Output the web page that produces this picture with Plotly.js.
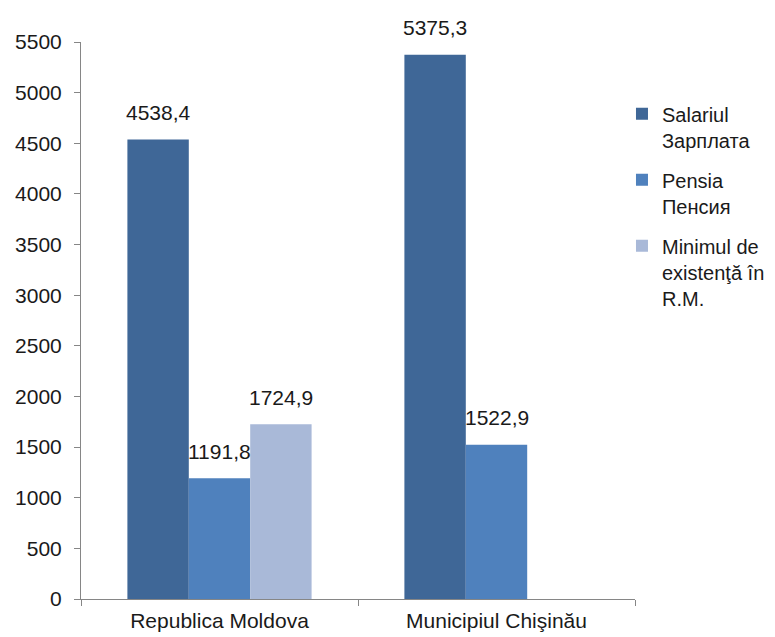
<!DOCTYPE html>
<html>
<head>
<meta charset="utf-8">
<script src="https://cdn.plot.ly/plotly-3.0.1.min.js"></script>
<style>
html,body{margin:0;padding:0;background:#fff;}
#chart{width:775px;height:637px;}
</style>
</head>
<body>
<div id="chart"></div>
<script>
const categories = ["Republica Moldova", "Municipiul Chişinău"];
const seriesNames = ["Salariul<br>Зарплата", "Pensia<br>Пенсия", "Minimul de<br>existenţă în<br>R.M."];
const salariul = [4538.4, 5375.3];
const pensia = [1191.8, 1522.9];
const minimul = [1724.9, null];
const colors = ["#3F6797", "#4F81BD", "#A9B9D8"];
const yTicks = [0, 500, 1000, 1500, 2000, 2500, 3000, 3500, 4000, 4500, 5000, 5500];

const FONT = "Liberation Sans, Arial, sans-serif";
const TEXT = "#1a1a1a";
const bargap = 0.335;
const allSeries = [salariul, pensia, minimul];

const traces = allSeries.map((vals, s) => ({
  type: "bar",
  name: seriesNames[s],
  legendgroup: "g" + s,
  x: categories,
  y: vals,
  marker: {color: colors[s], line: {width: 0}},
  hoverinfo: "none"
}));

const fmt = v => v.toFixed(1).replace(".", ",");
const annotations = [];
allSeries.forEach((vals, s) => {
  vals.forEach((v, i) => {
    if (v === null) return;
    annotations.push({
      x: i + (s - 1) * (1 - bargap) / 3,
      y: v,
      xref: "x", yref: "y",
      text: fmt(v),
      showarrow: false,
      yanchor: "middle",
      yshift: 27,
      font: {family: FONT, size: 21, color: TEXT}
    });
  });
});

const layout = {
  width: 775, height: 637,
  margin: {l: 81, r: 140, t: 42, b: 38, autoexpand: false},
  paper_bgcolor: "#fff", plot_bgcolor: "#fff",
  barmode: "group",
  bargap: bargap,
  bargroupgap: 0,
  font: {family: FONT, size: 21, color: TEXT},
  showlegend: true,
  legend: {
    x: 0.9765, xanchor: "left", y: 0.906, yanchor: "top",
    valign: "top",
    font: {family: FONT, size: 20, color: TEXT},
    tracegroupgap: 11,
    itemwidth: 30,
    bgcolor: "rgba(0,0,0,0)"
  },
  xaxis: {
    type: "category",
    showline: true, linecolor: "#868686", linewidth: 1,
    ticks: "outside", tickson: "boundaries", ticklen: 6, tickcolor: "#868686",
    ticklabelstandoff: 3,
    showgrid: false, zeroline: false,
    tickfont: {family: FONT, size: 21, color: TEXT}
  },
  yaxis: {
    range: [0, 5500],
    tickvals: yTicks,
    ticktext: yTicks.map(String),
    showline: true, linecolor: "#868686", linewidth: 1,
    ticks: "outside", ticklen: 6, tickcolor: "#868686",
    ticklabelstandoff: 8,
    showgrid: false, zeroline: false,
    tickfont: {family: FONT, size: 21, color: TEXT}
  },
  annotations: annotations
};

Plotly.newPlot("chart", traces, layout, {displayModeBar: false, staticPlot: true});
</script>
</body>
</html>
